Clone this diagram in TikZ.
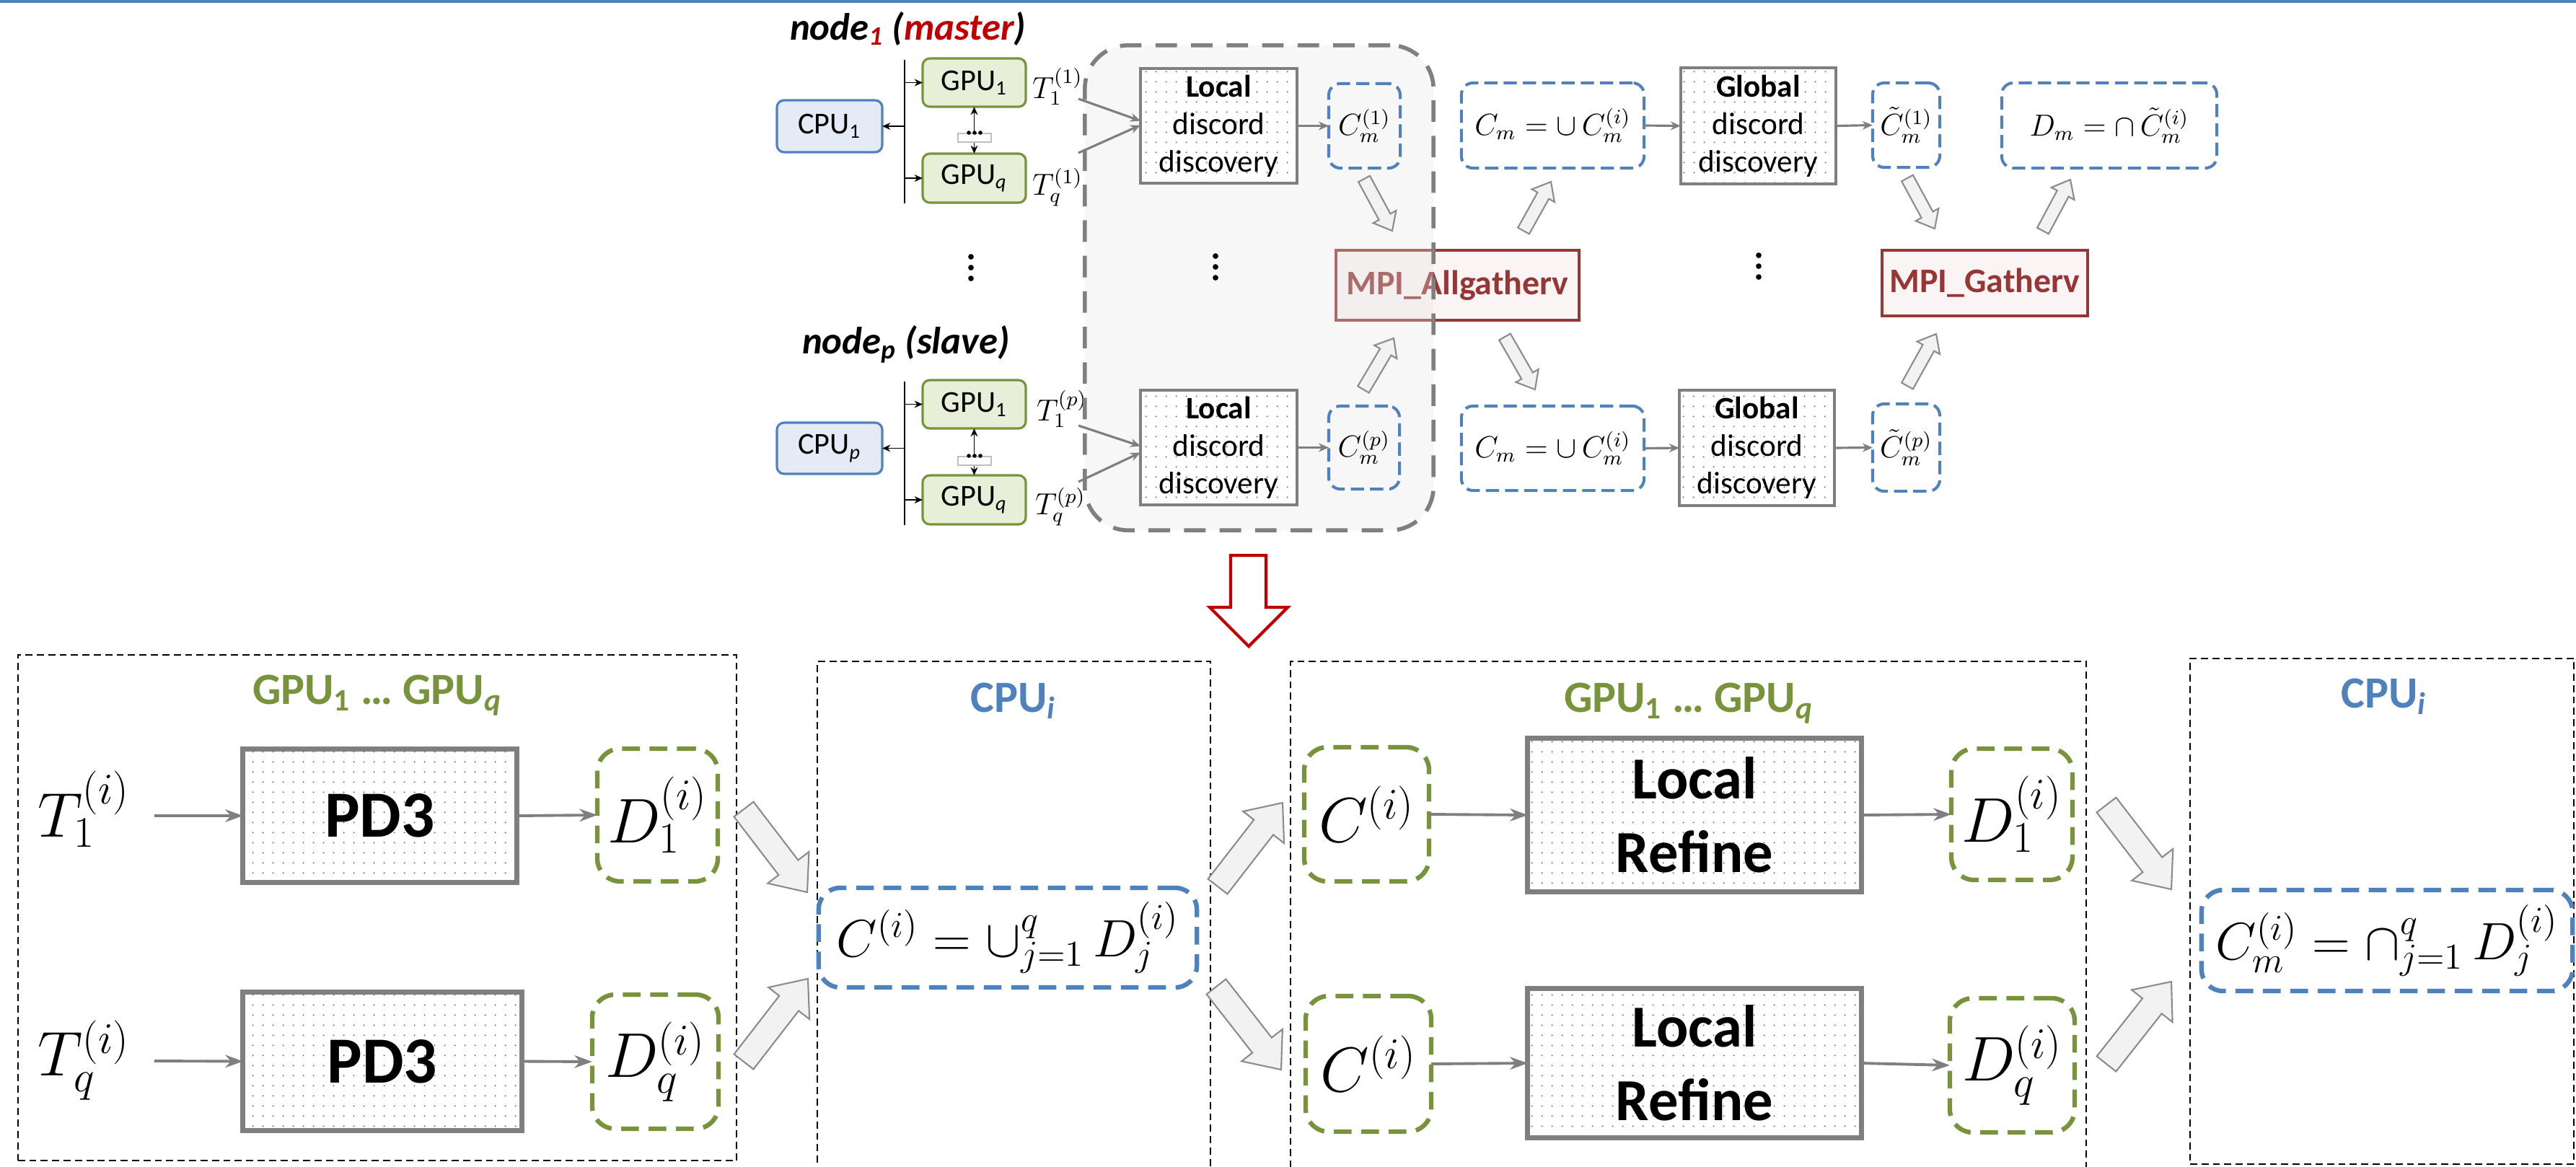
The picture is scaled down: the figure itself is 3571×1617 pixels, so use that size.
\documentclass[tikz,border=0pt]{standalone}
\usepackage[no-math]{fontspec}
\setmainfont{Carlito}
\usetikzlibrary{arrows.meta,calc,patterns.meta}

\definecolor{cblue}{HTML}{4F81BD}
\definecolor{cbluefill}{HTML}{E4EBF6}
\definecolor{cgreen}{HTML}{77933C}
\definecolor{cgreenfill}{HTML}{E8EFD9}
\definecolor{cgray}{HTML}{7F7F7F}
\definecolor{cred}{HTML}{C00000}
\definecolor{cmpi}{HTML}{953735}
\definecolor{cmpifill}{HTML}{FBF4F4}
\definecolor{carrfill}{HTML}{F2F2F2}
\definecolor{carrline}{HTML}{8C8C8C}

\tikzset{
  every node/.style={inner sep=0pt, outer sep=0pt},
  cpubox/.style={draw=cblue, fill=cbluefill, line width=0.9pt, rounded corners=0.1cm, font=\fontsize{12}{14}\selectfont},
  gpubox/.style={draw=cgreen, fill=cgreenfill, line width=0.9pt, rounded corners=0.1cm, font=\fontsize{12}{14}\selectfont},
  dotfill/.style={preaction={fill=white}, pattern={Dots[distance=4pt,radius=0.35pt]}, pattern color=black!55},
  procsmall/.style={dotfill, draw=cgray, line width=1.3pt, align=center, font=\fontsize{12.3}{14.8}\selectfont},
  procbig/.style={dotfill, draw=cgray, line width=2pt, align=center, font=\fontsize{23.5}{29}\selectfont\bfseries},
  setsmall/.style={draw=cblue, line width=1.15pt, dash pattern=on 5.2pt off 2.4pt, rounded corners=0.16cm, font=\fontsize{12}{14}\selectfont},
  setgreen/.style={draw=cgreen, line width=1.8pt, dash pattern=on 7pt off 3.8pt, rounded corners=0.32cm, font=\fontsize{24}{28}\selectfont},
  setblue/.style={draw=cblue, line width=1.8pt, dash pattern=on 7pt off 3.8pt, rounded corners=0.3cm, font=\fontsize{22}{26}\selectfont},
  mpibox/.style={draw=cmpi, fill=cmpifill, line width=1pt, text=cmpi, font=\fontsize{13.6}{16}\selectfont\bfseries},
  zone/.style={draw=cgray, line width=1.6pt, dash pattern=on 8.5pt off 5.5pt, rounded corners=0.6cm, fill=black!10, fill opacity=0.3},
  framebox/.style={draw=black, line width=0.55pt, dash pattern=on 2.8pt off 1.7pt},
  bus/.style={draw=black, line width=0.6pt},
  blkarr/.style={draw=black, line width=0.55pt, -{Stealth[length=3.2pt,width=2.8pt]}},
  garrs/.style={draw=cgray, line width=0.9pt, -{Stealth[length=4pt,width=3.4pt]}},
  garrb/.style={draw=cgray, line width=1.1pt, -{Stealth[length=7pt,width=5pt,inset=2.2pt]}},
  blockarr/.style={draw=carrline, fill=carrfill, line width=0.6pt, line join=miter},
  grouplab/.style={anchor=base, font=\fontsize{17.6}{20}\selectfont\bfseries},
  redarrow/.style={draw=cred, fill=white, line width=1.2pt, line join=miter},
}

% block arrow: style, tail x, tail y, tip x, tip y, half shaft, half head, head length
\newcommand\blockarrow[8]{%
  \pgfmathsetmacro\bal{veclen(#4-#2,#5-#3)}%
  \pgfmathsetmacro\baa{atan2(#3-#5,#4-#2)}%
  \pgfmathsetmacro\bab{\bal-#8}%
  \begin{scope}[shift={(#2,#3)},rotate=\baa]
    \draw[#1] (0,-#6) -- (\bab,-#6) -- (\bab,-#7) -- (\bal,0) -- (\bab,#7) -- (\bab,#6) -- (0,#6) -- cycle;
  \end{scope}}

\begin{document}
\begin{tikzpicture}[x=0.01cm,y=-0.01cm]
\useasboundingbox (0,0) rectangle (3571,1617);
\clip (0,0) rectangle (3571,1617);
\fill[cblue] (0,0) rectangle (3571,3.5);

% ================= cluster level =================
\node[anchor=base west, font=\fontsize{15}{18}\selectfont\bfseries\itshape] (mastertitle) at (1095,55)
  {node\textsubscript{\textcolor{cred}{1}} (\textcolor{cred}{master})};
\node[anchor=base west, font=\fontsize{15}{18}\selectfont\bfseries\itshape] (slavetitle) at (1112,490)
  {node\textsubscript{\textit{p}} (slave)};

% node 1
\node[cpubox, minimum width=1.46cm, minimum height=0.72cm] (cpu1) at (1150,175) {CPU\textsubscript{1}};
\node[gpubox, minimum width=1.43cm, minimum height=0.67cm] (g11) at (1350.5,114.5) {GPU\textsubscript{1}};
\node[gpubox, minimum width=1.43cm, minimum height=0.68cm] (gq1) at (1350.5,247) {GPU\textsubscript{\textit{q}}};
\coordinate (bus1t) at (1254,83);
\coordinate (bus1b) at (1254,282);
\draw[bus] (bus1t) -- (bus1b);
\draw[blkarr] (bus1t |- cpu1.east) -- (cpu1.east);
\draw[blkarr] (bus1t |- g11.west) -- (g11.west);
\draw[blkarr] (bus1t |- gq1.west) -- (gq1.west);
\draw[blkarr, {Stealth[length=3.2pt,width=2.8pt]}-{Stealth[length=3.2pt,width=2.8pt]}] (g11.south) -- (gq1.north);
\node[draw=black!25, fill=white, line width=0.3pt, minimum width=0.46cm, minimum height=0.12cm] (ell1) at (1351,191) {};
\foreach \xx in {1343,1351,1359} \fill (\xx,184) circle[radius=0.8pt];

% node p
\node[cpubox, minimum width=1.46cm, minimum height=0.71cm] (cpup) at (1150,621.5) {CPU\textsubscript{\textit{p}}};
\node[gpubox, minimum width=1.43cm, minimum height=0.67cm] (g1p) at (1350.5,560.5) {GPU\textsubscript{1}};
\node[gpubox, minimum width=1.43cm, minimum height=0.68cm] (gqp) at (1350.5,693) {GPU\textsubscript{\textit{q}}};
\coordinate (buspt) at (1254,529);
\coordinate (buspb) at (1254,728);
\draw[bus] (buspt) -- (buspb);
\draw[blkarr] (buspt |- cpup.east) -- (cpup.east);
\draw[blkarr] (buspt |- g1p.west) -- (g1p.west);
\draw[blkarr] (buspt |- gqp.west) -- (gqp.west);
\draw[blkarr, {Stealth[length=3.2pt,width=2.8pt]}-{Stealth[length=3.2pt,width=2.8pt]}] (g1p.south) -- (gqp.north);
\node[draw=black!25, fill=white, line width=0.3pt, minimum width=0.46cm, minimum height=0.12cm] (ellp) at (1351,639) {};
\foreach \xx in {1343,1351,1359} \fill (\xx,632) circle[radius=0.8pt];

% time series blocks
\node[font=\fontsize{12}{14}\selectfont] (t11) at (1466,120) {$T_1^{(1)}$};
\node[font=\fontsize{12}{14}\selectfont] (tq1) at (1466,260) {$T_q^{(1)}$};
\node[font=\fontsize{12}{14}\selectfont] (t1p) at (1472,567) {$T_1^{(p)}$};
\node[font=\fontsize{12}{14}\selectfont] (tqp) at (1470,703) {$T_q^{(p)}$};

% collective calls between the nodes
\node[mpibox, minimum width=3.37cm, minimum height=0.97cm] (mpiA) at (2020.5,395.5) {MPI\_Allgatherv};
\node[mpibox, minimum width=2.85cm, minimum height=0.91cm] (mpiG) at (2751.5,392.5) {MPI\_Gatherv};

% local discovery stage
\node[zone, minimum width=4.83cm, minimum height=6.72cm] (zone) at (1745.5,399) {};

\node[procsmall, minimum width=2.17cm, minimum height=1.59cm] (loc1) at (1689.5,174.5) {\textbf{Local}\\discord\\discovery};
\node[procsmall, minimum width=2.17cm, minimum height=1.59cm] (locp) at (1689.5,620.5) {\textbf{Local}\\discord\\discovery};
\node[setsmall, minimum width=0.99cm, minimum height=1.17cm] (cm1) at (1891.5,174.5) {$C_m^{(1)}$};
\node[setsmall, minimum width=0.98cm, minimum height=1.15cm] (cmp) at (1891,620.5) {$C_m^{(p)}$};

\coordinate (s11) at (1495,137);
\coordinate (sq1) at (1495,212);
\coordinate (s1p) at (1495,590);
\coordinate (sqp) at (1495,668);
\draw[garrs] (s11) -- ($(loc1.west)+(0,-7)$);
\draw[garrs] (sq1) -- ($(loc1.west)+(0,-1)$);
\draw[garrs] (s1p) -- ($(locp.west)+(0,-2)$);
\draw[garrs] (sqp) -- ($(locp.west)+(0,7)$);
\draw[garrs] (loc1.east) -- (cm1.west);
\draw[garrs] (locp.east) -- (cmp.west);

% global discovery stage
\node[setsmall, minimum width=2.53cm, minimum height=1.18cm] (cu1) at (2152.5,174) {$C_m = \cup\, C_m^{(i)}$};
\node[setsmall, minimum width=2.53cm, minimum height=1.17cm] (cup) at (2152.5,621.5) {$C_m = \cup\, C_m^{(i)}$};
\node[procsmall, minimum width=2.15cm, minimum height=1.61cm] (glob1) at (2437.5,174.5) {\textbf{Global}\\discord\\discovery};
\node[procsmall, minimum width=2.15cm, minimum height=1.60cm] (globp) at (2435.5,621) {\textbf{Global}\\discord\\discovery};
\node[setsmall, minimum width=0.93cm, minimum height=1.17cm] (ct1) at (2642.5,173.5) {$\tilde{C}_m^{(1)}$};
\node[setsmall, minimum width=0.93cm, minimum height=1.21cm] (ctp) at (2642.5,620.5) {$\tilde{C}_m^{(p)}$};
\node[setsmall, minimum width=2.98cm, minimum height=1.18cm] (dm) at (2924,174) {$D_m = \cap\, \tilde{C}_m^{(i)}$};
\draw[garrs] (cu1.east) -- (glob1.west);
\draw[garrs] (glob1.east) -- (ct1.west);
\draw[garrs] (cup.east) -- (globp.west);
\draw[garrs] (globp.east) -- (ctp.west);

% exchanges with the collective calls
\blockarrow{blockarr}{1891}{248}{1930}{320}{9}{18}{22}
\blockarrow{blockarr}{1890}{540}{1932}{469}{9}{18}{22}
\blockarrow{blockarr}{2112}{320}{2150}{252}{9}{18}{22}
\blockarrow{blockarr}{2086}{467}{2128}{540}{9}{18}{22}
\blockarrow{blockarr}{2644}{247}{2682}{317}{9}{18}{22}
\blockarrow{blockarr}{2644}{535}{2684}{463}{9}{18}{22}
\blockarrow{blockarr}{2832}{320}{2870}{249}{9}{18}{22}

% vertical ellipses
\foreach \xx/\yy in {1346/356, 1685/355, 2438/354}{
  \foreach \dy in {0,15,30} \fill (\xx,\yy+\dy) circle[radius=1.1pt];
}

% refinement arrow
\draw[redarrow] (1706,770) -- (1706,842) -- (1677,842) -- (1731,896) -- (1785,842) -- (1755,842) -- (1755,770) -- cycle;

% ================= inside one node =================
\node[framebox, minimum width=9.96cm, minimum height=7.01cm] (fr1) at (523,1258.5) {};
\node[framebox, minimum width=5.45cm, minimum height=7.08cm] (fr2) at (1405.5,1271) {};
\node[framebox, minimum width=11.03cm, minimum height=7.08cm] (fr3) at (2340.5,1271) {};
\node[framebox, minimum width=5.32cm, minimum height=7.01cm] (fr4) at (3302,1263.5) {};

\node[grouplab, text=cgreen] (lab1) at (523,976) {GPU\textsubscript{1} \ldots{} GPU\textsubscript{\textit{q}}};
\node[grouplab, text=cblue] (lab2) at (1405,987) {CPU\textsubscript{\textit{i}}};
\node[grouplab, text=cgreen] (lab3) at (2341,987) {GPU\textsubscript{1} \ldots{} GPU\textsubscript{\textit{q}}};
\node[grouplab, text=cblue] (lab4) at (3305,981) {CPU\textsubscript{\textit{i}}};

% PD3 on each GPU
\node[font=\fontsize{24}{28}\selectfont] (t1i) at (116,1122) {$T_1^{(i)}$};
\node[font=\fontsize{24}{28}\selectfont] (tqi) at (116,1470) {$T_q^{(i)}$};
\coordinate (in1) at (214,1131);
\coordinate (inq) at (214,1471);
\node[procbig, font=\fontsize{26}{30}\selectfont\bfseries, minimum width=3.79cm, minimum height=1.84cm] (pd31) at (526.5,1131) {PD3};
\node[procbig, font=\fontsize{26}{30}\selectfont\bfseries, minimum width=3.86cm, minimum height=1.91cm] (pd3q) at (530,1471.5) {PD3};
\node[setgreen, minimum width=1.67cm, minimum height=1.84cm] (d1) at (911.5,1130) {$D_1^{(i)}$};
\node[setgreen, minimum width=1.75cm, minimum height=1.86cm] (dq) at (908.5,1472) {$D_q^{(i)}$};
\draw[garrb] (in1) -- (pd31.west);
\draw[garrb] (inq) -- (pd3q.west);
\draw[garrb] (pd31.east) -- (d1.west);
\draw[garrb] (pd3q.east) -- (dq.west);

% union on the CPU
\node[setblue, minimum width=5.24cm, minimum height=1.38cm] (cu) at (1397,1300) {$C^{(i)} = \cup_{j=1}^{q}\, D_j^{(i)}$};

% local refinement on each GPU
\node[setgreen, minimum width=1.73cm, minimum height=1.86cm] (ci1) at (1894.5,1129) {$C^{(i)}$};
\node[setgreen, minimum width=1.74cm, minimum height=1.88cm] (ciq) at (1897,1475) {$C^{(i)}$};
\node[procbig, minimum width=4.62cm, minimum height=2.12cm] (lr1) at (2349,1130) {Local\\Refine};
\node[procbig, minimum width=4.62cm, minimum height=2.06cm] (lrq) at (2349,1474) {Local\\Refine};
\node[setgreen, minimum width=1.68cm, minimum height=1.82cm] (d1b) at (2789,1129) {$D_1^{(i)}$};
\node[setgreen, minimum width=1.73cm, minimum height=1.86cm] (dqb) at (2789.5,1477) {$D_q^{(i)}$};
\draw[garrb] (ci1.east) -- (lr1.west);
\draw[garrb] (ciq.east) -- (lrq.west);
\draw[garrb] (lr1.east) -- (d1b.west);
\draw[garrb] (lrq.east) -- (dqb.west);

% intersection on the CPU
\node[setblue, minimum width=5.14cm, minimum height=1.40cm] (cmf) at (3309,1304) {$C_m^{(i)} = \cap_{j=1}^{q}\, D_j^{(i)}$};

% transfers between GPUs and CPU
\blockarrow{blockarr}{1031}{1122}{1119}{1237}{17}{36}{43}
\blockarrow{blockarr}{1031}{1472}{1120}{1357}{17}{36}{43}
\blockarrow{blockarr}{1688}{1229}{1778}{1113}{17}{36}{43}
\blockarrow{blockarr}{1686}{1368}{1776}{1483}{17}{36}{43}
\blockarrow{blockarr}{2920}{1116}{3010}{1233}{17}{36}{43}
\blockarrow{blockarr}{2920}{1475}{3010}{1361}{17}{36}{43}
\end{tikzpicture}
\end{document}
